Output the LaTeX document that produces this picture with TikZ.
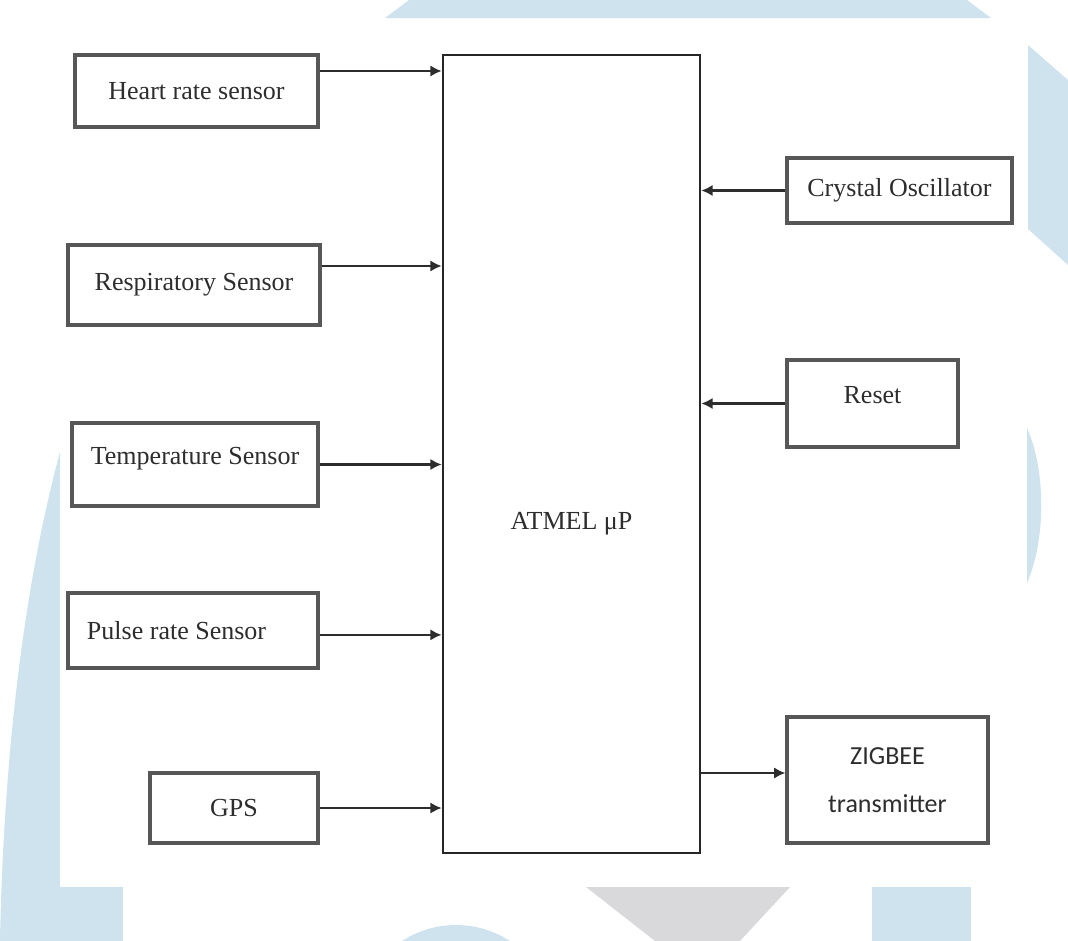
\documentclass[tikz,border=0pt]{standalone}
\usepackage{fontspec}
\setmainfont{Liberation Serif}
\newfontfamily\zigfont{Carlito}
\usetikzlibrary{arrows.meta}
\tikzset{>={Latex[length=8pt,width=8pt]}}
\definecolor{wmblue}{RGB}{207,227,239}
\definecolor{wmgray}{RGB}{217,217,220}
\definecolor{ink}{RGB}{45,45,45}

\begin{document}
\begin{tikzpicture}[x=0.025cm,y=-0.025cm,
  blk/.style={draw=ink!80, line width=2.2pt, rectangle, inner sep=0pt, text=ink, font=\fontsize{18.5}{22}\selectfont},
  arr/.style={->, draw=ink, line width=2pt}]
\useasboundingbox (0,0) rectangle (1068,941);
\begin{scope}
\clip (0,0) rectangle (1068,941);
% watermark behind the diagram
\fill[wmblue] (385,18) -- (409,0) -- (967,0) -- (991,18) -- cycle;
\fill[wmblue] (1028,45) -- (1068,80) -- (1068,265) -- (1028,229) -- cycle;
\fill[wmblue] (1027,428) .. controls (1046,470) and (1046,540) .. (1027,583) -- cycle;
\fill[wmblue] (60,452) .. controls (20,600) and (3,780) .. (0,941) -- (123,941) -- (123,887) -- (60,887) -- cycle;
\fill[wmblue] (456,1024) circle (99);
\fill[wmblue] (872,887) rectangle (971,941);
\fill[wmgray] (586,887) -- (790,887) -- (740,941) -- (655,941) -- cycle;
\end{scope}

\node[blk, draw=black!85, line width=1.8pt, minimum width=6.425cm, minimum height=19.95cm] (mcu) at (571.5,454) {\raisebox{-54pt}[0pt][0pt]{ATMEL μP}};

\node[blk, minimum width=6.075cm, minimum height=1.8cm] (heart) at (196.5,91) {Heart rate sensor};
\node[blk, minimum width=6.3cm, minimum height=2cm] (resp) at (194,285) {Respiratory Sensor};
\node[blk, minimum width=6.15cm, minimum height=2.075cm] (temp) at (195,464.5) {\smash{Temperature Sensor}};
\node[blk, text width=5.3cm, inner xsep=0.475cm, align=flush left, minimum height=1.875cm] (pulse) at (193,630.5) {Pulse rate Sensor};
\node[blk, minimum width=4.2cm, minimum height=1.75cm] (gps) at (234,808) {GPS};

\node[blk, minimum width=5.625cm, minimum height=1.625cm] (xtal) at (899.5,190.5) {Crystal Oscillator};
\node[blk, minimum width=4.275cm, minimum height=2.175cm] (reset) at (872.5,403.5) {\smash{Reset}};
\node[blk, align=center, minimum width=5.025cm, minimum height=3.15cm, font=\zigfont\fontsize{18.5}{34}\selectfont] (zigbee) at (887.5,780) {ZIGBEE\\transmitter};

\draw[arr] ([yshift=0.5cm]heart.east) -- ([yshift=0.5cm]heart.east -| mcu.west);
\draw[arr] ([yshift=0.475cm]resp.east) -- ([yshift=0.475cm]resp.east -| mcu.west);
\draw[arr] (temp.east) -- (temp.east -| mcu.west);
\draw[arr] ([yshift=-0.11cm]pulse.east) -- ([yshift=-0.11cm]pulse.east -| mcu.west);
\draw[arr] (gps.east) -- (gps.east -| mcu.west);
\draw[arr] (xtal.west) -- (xtal.west -| mcu.east);
\draw[arr] (reset.west) -- (reset.west -| mcu.east);
\draw[arr] ([yshift=0.175cm]mcu.east |- zigbee.west) -- ([yshift=0.175cm]zigbee.west);
\end{tikzpicture}
\end{document}
